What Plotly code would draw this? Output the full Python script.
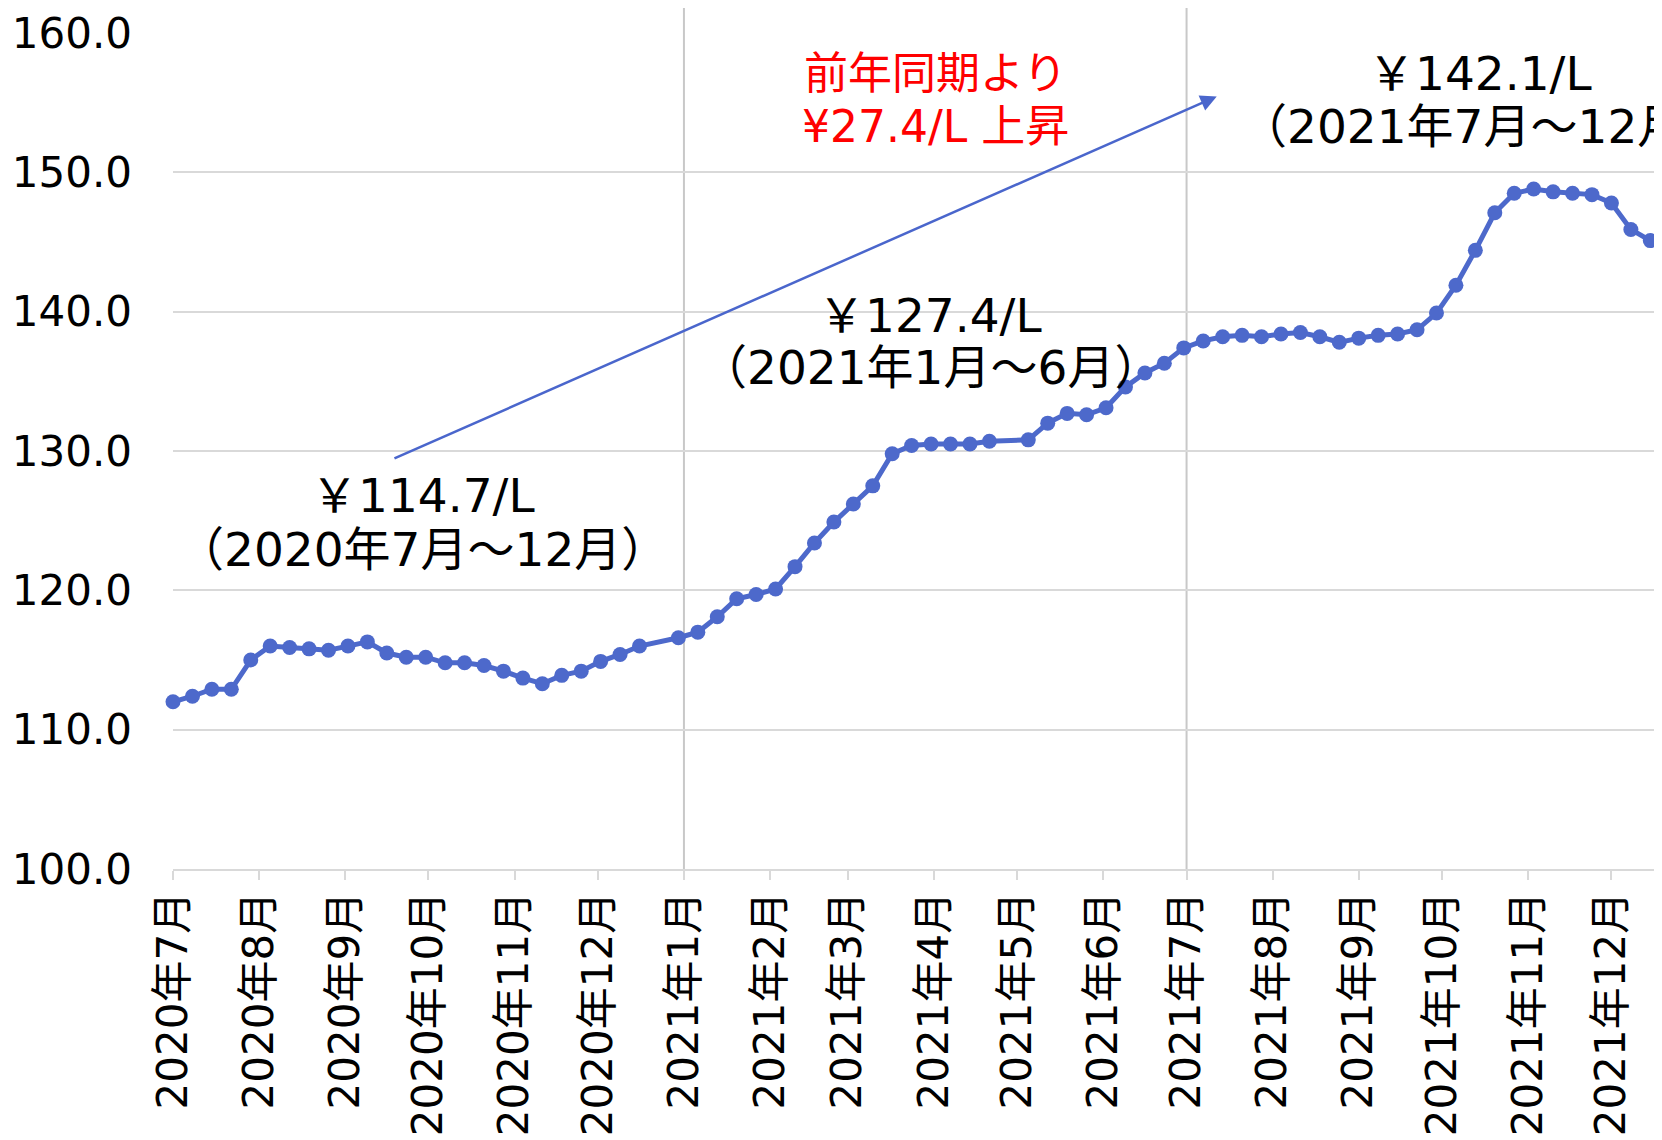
import plotly.graph_objects as go

# ---- data (weekly prices, yen per litre) ----
dates = [
    "2020-07-06", "2020-07-13", "2020-07-20", "2020-07-27", "2020-08-03", "2020-08-10",
    "2020-08-17", "2020-08-24", "2020-08-31", "2020-09-07", "2020-09-14", "2020-09-21",
    "2020-09-28", "2020-10-05", "2020-10-12", "2020-10-19", "2020-10-26", "2020-11-02",
    "2020-11-09", "2020-11-16", "2020-11-23", "2020-11-30", "2020-12-07", "2020-12-14",
    "2020-12-21",
    "2021-01-04", "2021-01-11", "2021-01-18", "2021-01-25", "2021-02-01", "2021-02-08",
    "2021-02-15", "2021-02-22", "2021-03-01", "2021-03-08", "2021-03-15", "2021-03-22",
    "2021-03-29", "2021-04-05", "2021-04-12", "2021-04-19", "2021-04-26", "2021-05-10",
    "2021-05-17", "2021-05-24", "2021-05-31", "2021-06-07", "2021-06-14", "2021-06-21",
    "2021-06-28",
    "2021-07-05", "2021-07-12", "2021-07-19", "2021-07-26", "2021-08-02", "2021-08-09",
    "2021-08-16", "2021-08-23", "2021-08-30", "2021-09-06", "2021-09-13", "2021-09-20",
    "2021-09-27", "2021-10-04", "2021-10-11", "2021-10-18", "2021-10-25", "2021-11-01",
    "2021-11-08", "2021-11-15", "2021-11-22", "2021-11-29", "2021-12-06", "2021-12-13",
    "2021-12-20",
]
prices = [
    112.0, 112.4, 112.9, 112.9, 115.0, 116.0, 115.9, 115.8, 115.7, 116.0, 116.3, 115.5,
    115.2, 115.2, 114.8, 114.8, 114.6, 114.2, 113.7, 113.3, 113.9, 114.2, 114.9, 115.4,
    116.0,
    116.6, 117.0, 118.1, 119.4, 119.7, 120.1, 121.7, 123.4, 124.9, 126.2, 127.5, 129.8,
    130.4, 130.5, 130.5, 130.5, 130.7, 130.8, 132.0, 132.7, 132.6, 133.1, 134.6, 135.6,
    136.3,
    137.4, 137.9, 138.2, 138.3, 138.2, 138.4, 138.5, 138.2, 137.8, 138.1, 138.3, 138.4,
    138.7, 139.9, 141.9, 144.4, 147.1, 148.5, 148.8, 148.6, 148.5, 148.4, 147.8, 145.9,
    145.1,
]

tick_dates = [
    "2020-07-06", "2020-08-06", "2020-09-06", "2020-10-06", "2020-11-06", "2020-12-06",
    "2021-01-06", "2021-02-06", "2021-03-06", "2021-04-06", "2021-05-06", "2021-06-06",
    "2021-07-06", "2021-08-06", "2021-09-06", "2021-10-06", "2021-11-06", "2021-12-06",
]
tick_labels = [
    "2020年7月", "2020年8月", "2020年9月", "2020年10月", "2020年11月", "2020年12月",
    "2021年1月", "2021年2月", "2021年3月", "2021年4月", "2021年5月", "2021年6月",
    "2021年7月", "2021年8月", "2021年9月", "2021年10月", "2021年11月", "2021年12月",
]
period_lines = ["2021-01-06", "2021-07-06"]

period_labels = [
    ("￥114.7/L", "（2020年7月～12月）"),
    ("￥127.4/L", "（2021年1月～6月）"),
    ("￥142.1/L", "（2021年7月～12月）"),
]
change_label = ("前年同期より", "¥27.4/L 上昇")

# ---- style / layout ----
FONT = "DejaVu Sans, Noto Sans CJK JP, sans-serif"
LINE_COLOR = "#4D69CB"
GRID = "#D9D9D9"

W_FIG, H_FIG = 1662, 1140
OFF = 8  # page body margin
# target plot area in page pixels: left 173, top 33, right 1654, bottom 869
L, T = 173 - OFF, 33 - OFF
R = W_FIG - (1654 - OFF)
B = H_FIG - (869 - OFF)
PW, PH = W_FIG - L - R, H_FIG - T - B


def px(x):
    return (x - OFF - L) / PW


def py(y):
    return 1 - (y - OFF - T) / PH


fig = go.Figure()
fig.add_trace(go.Scatter(
    x=dates, y=prices, mode="lines+markers",
    line=dict(color=LINE_COLOR, width=5),
    marker=dict(color=LINE_COLOR, size=15),
    cliponaxis=False, showlegend=False,
))

for d in period_lines:
    fig.add_shape(type="line", xref="x", yref="paper", x0=d, x1=d,
                  y0=0, y1=py(6), line=dict(color="#C8C8C8", width=2), layer="below")

annos = []
pos = [((423, 495), (422, 549)), ((930, 315), (930, 367)), ((1480, 74), (1485, 127))]
for (l1, l2), (p1, p2) in zip(period_labels, pos):
    for txt, p in ((l1, p1), (l2, p2)):
        annos.append(dict(text=txt, x=px(p[0]), y=py(p[1]), xref="paper", yref="paper",
                          showarrow=False, xanchor="center", yanchor="middle",
                          font=dict(family=FONT, size=47, color="#000000")))
for t, yy in zip(change_label, (74, 127)):
    annos.append(dict(text=t, x=px(935), y=py(yy), xref="paper", yref="paper",
                      showarrow=False, xanchor="center", yanchor="middle",
                      font=dict(family=FONT, size=44, color="#FF0000")))
# arrow
annos.append(dict(text="", x="2021-07-16 21:00", y=155.45, xref="x", yref="y",
                  ax="2020-09-23 05:00", ay=129.42, axref="x", ayref="y",
                  showarrow=True, arrowhead=2, arrowsize=1.3, arrowwidth=2.5,
                  arrowcolor="#4A66CC", standoff=0))

fig.update_layout(
    width=W_FIG, height=H_FIG,
    margin=dict(l=L, r=R, t=T, b=B, autoexpand=False),
    paper_bgcolor="white", plot_bgcolor="white",
    font=dict(family=FONT, size=42, color="#000000"),
    annotations=annos,
)
fig.update_xaxes(
    type="date", range=["2020-07-06", "2021-12-21 08:00"],
    tickmode="array", tickvals=tick_dates, ticktext=tick_labels,
    tickangle=-90, ticks="outside", ticklen=9, tickcolor=GRID, tickwidth=2,
    showgrid=False, showline=True, linecolor=GRID, linewidth=2,
    tickfont=dict(family=FONT, size=42, color="#000000"),
    ticklabelstandoff=-5, zeroline=False, automargin=False,
)
fig.update_yaxes(
    range=[100, 160], dtick=10, tick0=100, tickformat=".1f",
    showgrid=True, gridcolor=GRID, gridwidth=1.5, zeroline=False,
    showline=False, ticks="",
    tickfont=dict(family=FONT, size=42, color="#000000"),
    ticklabelstandoff=40, automargin=False,
)

fig.write_html("out.html")
